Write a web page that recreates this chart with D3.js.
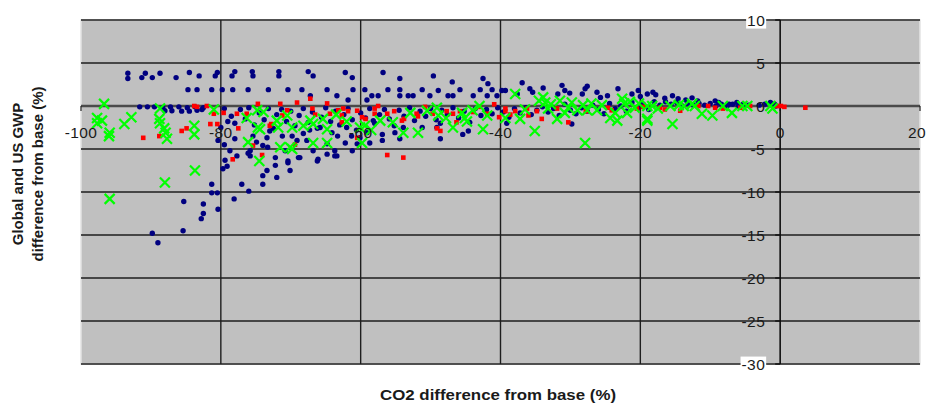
<!DOCTYPE html>
<html>
<head>
<meta charset="utf-8">
<script src="https://cdn.jsdelivr.net/npm/d3@7/dist/d3.min.js"></script>
<style>
  body { margin: 0; background: #fff; }
  text { font-family: "Liberation Sans", Arial, sans-serif; fill: #1a1a1a; }
</style>
</head>
<body>
<div id="chart"></div>
<script>
// axis ticks
const xTicks = [-100, -80, -60, -40, -20, 0, 20];
const yTicks = [10, 5, 0, -5, -10, -15, -20, -25, -30];

// navy dots [co2 diff, gwp diff]
const blueSeries = [
  [-93.3,3.8],[-93.3,3.2],[-91.3,3.3],[-90.8,3.8],[-89.8,3.3],[-88.7,3.8],[-86.4,3.3],[-84.5,3.9],[-83.1,3.5],
  [-80.8,3.5],[-80.5,3.9],[-78.4,3.5],[-78.0,4.0],[-75.5,4.0],[-75.4,3.5],[-71.7,4.0],[-71.7,3.5],[-67.5,4.0],
  [-66.8,3.5],[-62.2,3.9],[-61.2,3.3],[-56.8,3.9],[-54.4,3.2],[-49.6,3.5],[-46.9,2.8],[-42.5,3.2],[-41.8,2.6],
  [-84.7,1.9],[-83.4,1.9],[-81.3,1.9],[-79.8,1.9],[-78.3,1.9],[-76.1,1.9],[-73.2,1.9],[-70.4,1.9],[-68.4,1.9],
  [-64.8,1.9],[-61.1,1.9],[-59.4,1.9],[-63.4,1.2],[-61.8,0.7],[-58.4,1.2],[-59.1,0.7],[-67.2,1.2],[-56.1,1.9],
  [-54.4,1.9],[-54.4,1.2],[-53.2,1.2],[-52.5,1.2],[-51.2,1.9],[-50.1,1.2],[-48.9,1.8],[-47.5,1.2],[-46.8,1.2],
  [-45.8,1.9],[-43.9,1.2],[-42.9,1.9],[-41.9,1.2],[-41.2,1.9],[-40.5,1.2],[-39.8,1.8],[-57.5,1.2],[-39.3,1.8],
  [-37.6,1.4],[-36.9,2.7],[-35.8,2.0],[-35.4,1.6],[-33.9,2.1],[-31.2,2.4],[-30.8,1.8],[-30.1,1.5],[-31.8,1.4],
  [-28.3,1.4],[-27.9,2.0],[-27.6,2.3],[-26.2,1.6],[-25.7,1.0],[-24.7,1.2],[-23.2,2.0],[-21.2,1.4],[-20.3,1.8],
  [-20.0,1.1],[-19.0,1.4],[-18.2,1.6],[-17.8,1.3],[-16.5,0.9],[-15.4,1.2],[-14.6,0.85],[-13.5,0.7],[-12.6,0.95],
  [-11.8,0.6],[-9.3,0.6],[-8.8,0.4],[-7.3,0.2],[-6.2,0.4],[-5.3,0.2],[-1.4,0.4],[-0.8,0.2],[-3.0,0.1],
  [-91.6,-0.1],[-90.5,-0.1],[-89.5,-0.1],[-88.3,-0.2],[-87.2,-0.1],[-86.0,-0.1],[-84.8,-0.2],[-83.7,-0.1],[-82.5,-0.2],
  [-88.0,-0.55],[-87.0,-0.55],[-85.6,-0.6],[-84.5,-0.6],[-83.4,-0.5],[-82.7,-0.4],
  [-79.5,-0.3],[-78.5,-1.2],[-78.0,-2.0],[-77.2,-0.4],[-76.5,-1.5],[-76.0,-0.2],[-75.2,-2.2],[-74.5,-0.8],[-73.8,-1.6],
  [-73.2,-0.3],[-72.5,-2.6],[-72.0,-1.0],[-71.3,-0.4],[-70.6,-1.8],[-70.0,-0.6],[-69.4,-2.3],[-68.8,-1.1],[-68.2,-0.3],
  [-67.5,-1.9],[-66.9,-0.7],[-66.2,-2.6],[-65.6,-1.3],[-65.0,-0.2],[-64.3,-1.8],[-63.6,-0.6],[-63.0,-2.2],[-62.4,-1.0],
  [-61.8,-0.3],[-61.2,-1.6],[-60.6,-2.8],[-60.0,-0.8],[-59.3,-1.4],[-58.7,-0.3],[-58.0,-2.0],[-57.3,-1.0],[-56.6,-0.4],
  [-55.9,-1.5],[-55.2,-2.3],[-54.5,-0.5],[-53.8,-1.2],[-53.0,-0.2],[-52.3,-1.7],[-51.5,-0.6],[-50.7,-1.2],[-50.0,-0.3],
  [-49.2,-1.6],[-48.4,-0.5],[-47.6,-1.0],[-46.8,-0.2],[-46.0,-1.4],[-45.2,-0.6],[-44.4,-1.9],[-43.6,-0.3],[-42.8,-1.1],
  [-42.0,-0.4],[-41.2,-0.9],[-40.4,-0.2],[-39.6,-0.7],[-38.8,-1.3],[-38.0,-0.3],[-37.2,-0.8],[-36.4,-0.2],[-35.6,-1.0],
  [-34.8,-0.5],[-34.0,-0.1],[-33.2,-0.7],[-32.4,-0.3],[-31.6,-1.1],[-30.8,0.2],[-30.0,-0.5],[-29.2,-0.9],[-28.4,-0.2],
  [-27.6,-0.6],[-26.8,0.1],[-26.0,-0.4],[-25.2,-0.9],[-24.4,0.3],[-23.6,-0.3],[-22.8,0.0],[-22.0,-0.6],[-21.2,0.4],
  [-20.4,-0.2],[-19.6,0.2],[-18.8,-0.4],[-18.0,0.5],[-17.2,0.1],[-16.4,0.5],[-15.6,0.2],[-14.8,0.4],[-14.0,0.0],
  [-13.2,0.3],[-12.4,0.1],[-11.6,0.3],[-10.8,0.1],[-10.0,0.3],[-9.2,0.0],[-8.4,0.2],[-7.6,0.0],[-6.8,0.2],
  [-6.0,0.0],[-4.5,0.1],[-2.2,0.2],[-0.6,0.0],[-39.1,-2.0],[-29.8,-2.1],
  [-81.3,-9.1],[-81.3,-10.1],[-80.5,-10.1],[-80.4,-12.0],[-82.5,-11.4],[-82.5,-12.5],[-82.8,-13.1],[-85.3,-11.1],
  [-85.4,-14.5],[-89.8,-14.8],[-89.0,-15.9],[-78.1,-10.8],[-76.0,-9.9],[-77.0,-9.1],[-74.0,-9.1],[-79.7,-7.3],
  [-79.1,-7.0],[-77.7,-5.8],[-76.1,-5.5],[-74.0,-8.1],[-73.4,-7.5],[-72.2,-6.9],[-72.0,-8.3],[-70.4,-6.6],
  [-70.1,-7.5],[-68.7,-6.0],[-66.2,-6.4],[-64.8,-5.6],[-63.7,-5.8],[-79.4,-6.3],[-78.7,-5.2],[-78.0,-3.8],
  [-75.8,-5.2],[-75.8,-5.8],[-74.0,-4.6],[-73.3,-4.8],[-72.2,-6.0],[-70.8,-5.2],[-70.4,-6.4],[-69.1,-4.0],
  [-68.9,-6.0],[-67.7,-4.0],[-66.8,-5.2],[-66.1,-6.2],[-64.8,-4.4],[-63.7,-5.2],[-63.4,-5.8],[-62.2,-4.3],
  [-61.2,-5.2],[-60.5,-4.4],[-73.0,-2.9],[-73.4,-3.7],[-75.4,-3.5],[-74.9,-4.2],[-71.2,-3.5],[-69.8,-3.5],
  [-68.2,-3.2],[-67.3,-2.8],[-65.8,-2.5],[-64.1,-3.1],[-63.3,-3.5],[-62.0,-2.5],[-61.3,-3.5],[-60.1,-3.7],
  [-59.1,-3.1],[-58.7,-4.3],[-56.9,-4.0],[-56.9,-3.3],[-55.1,-3.1],[-54.4,-3.8],[-53.9,-2.5],[-48.6,-3.8],
  [-49.1,-2.5],[-51.2,-2.5],[-45.4,-3.3],[-44.6,-2.9],[-48.6,-2.0],[-58.2,-1.7],[-79.0,-1.8],[-80.0,-2.5],
  [-80.4,-4.0],[-79.5,-4.5]
];

// red dots
const redSeries = [
  [-91.1,-3.7],[-88.8,-3.5],[-85.6,-2.9],[-84.9,-2.6],[-83.8,0.0],[-83.4,-0.1],[-82.0,0.0],[-81.5,-2.1],[-80.5,-2.1],
  [-81.0,-0.9],[-79.6,-0.8],[-78.3,-6.2],[-77.7,-0.9],[-77.5,-2.6],[-76.3,-0.9],[-75.4,-4.6],[-74.7,0.25],[-74.1,-5.7],
  [-73.0,-2.3],[-72.8,-2.1],[-71.5,0.25],[-71.2,-1.1],[-70.5,-0.5],[-69.4,-4.5],[-69.1,0.4],[-67.2,0.85],[-66.9,-0.3],
  [-66.5,-1.0],[-64.8,0.3],[-64.4,-0.9],[-63.2,-0.5],[-62.7,-1.1],[-62.7,-1.9],[-62.5,-0.3],[-61.8,-0.6],[-60.5,-0.55],
  [-60.5,-3.7],[-59.8,-1.3],[-59.3,-1.5],[-58.0,-0.9],[-58.0,-0.3],[-57.5,0.0],[-56.2,-0.9],[-55.2,-0.6],[-54.1,-1.7],
  [-53.8,-1.5],[-52.0,-0.9],[-51.8,-1.2],[-50.8,-0.1],[-49.7,-0.9],[-49.1,-2.6],[-48.6,-2.9],[-47.7,-0.6],[-46.8,-0.9],
  [-45.8,-0.6],[-46.3,-1.9],[-43.9,-0.7],[-43.0,-0.1],[-41.9,-0.9],[-40.9,0.2],[-40.2,-1.3],[-39.3,-0.3],[-39.3,-0.6],
  [-38.6,-1.0],[-37.9,-0.6],[-36.2,-0.3],[-36.0,-1.1],[-34.8,-0.6],[-34.1,-1.5],[-31.9,-0.3],[-30.3,-1.9],[-27.8,-0.6],
  [-24.6,-0.2],[-24.1,-0.5],[-20.5,-0.3],[-19.6,-0.1],[-17.2,-0.2],[-16.5,-0.4],[-14.3,-0.55],[-11.7,0.0],[-10.3,0.0],
  [-9.3,-0.2],[-8.2,-0.3],[-5.7,-0.2],[-4.3,0.0],[-0.4,0.0],[0.1,0.0],[0.6,-0.1],[3.6,-0.2],[-56.2,-5.7],[-53.9,-6.0]
];

// green crosses
const greenSeries = [
  [-96.7,0.25],[-97.7,-1.4],[-97.0,-1.7],[-97.7,-2.0],[-95.9,-3.1],[-96.0,-3.5],[-93.8,-2.1],[-92.8,-1.3],[-88.7,-0.3],
  [-88.8,-1.5],[-88.7,-2.0],[-88.1,-2.6],[-87.9,-3.1],[-87.7,-3.8],[-83.8,-2.3],[-83.8,-3.3],[-81.0,-0.4],[-83.7,-7.5],
  [-95.9,-10.8],[-88.0,-8.9],[-74.5,-6.4],[-76.1,-4.2],[-74.8,-0.5],[-74.4,-2.7],[-72.0,-1.7],[-70.5,-1.1],[-71.5,-4.8],
  [-70.1,-4.8],[-68.2,-2.3],[-66.8,-2.1],[-66.8,-4.3],[-65.4,-1.5],[-64.8,-4.3],[-76.3,-1.4],[-74.7,-2.5],[-73.9,-0.7],
  [-71.8,-2.5],[-69.8,-2.5],[-69.8,-5.0],[-67.2,-1.7],[-64.8,-2.7],[-60.1,-2.5],[-59.8,-4.3],[-59.4,-2.3],[-57.2,-1.7],
  [-55.4,-1.9],[-53.9,-3.1],[-51.8,-3.1],[-52.9,-0.8],[-50.5,-0.55],[-49.1,-0.2],[-48.9,-1.1],[-47.8,-1.4],[-46.8,-2.5],
  [-45.5,-0.8],[-45.1,-1.4],[-44.8,-1.8],[-42.5,-2.7],[-41.9,-1.1],[-37.9,1.4],[-39.3,-1.4],[-37.2,-1.5],[-35.1,-2.9],
  [-33.9,1.0],[-33.6,0.4],[-33.2,-0.3],[-31.9,-1.5],[-30.3,-0.2],[-29.8,0.4],[-29.0,-0.5],[-27.6,-0.5],[-26.2,-0.5],
  [-27.9,-4.3],[-24.3,-1.4],[-23.6,-0.8],[-22.6,0.85],[-22.3,0.3],[-23.3,-1.7],[-21.9,-0.8],[-19.0,-1.7],[-19.0,0.0],
  [-18.3,0.0],[-19.0,-1.5],[-15.7,0.0],[-15.4,-2.1],[-12.6,0.25],[-12.2,0.0],[-11.2,-0.9],[-9.7,-1.1],[-8.2,0.0],
  [-6.9,-0.8],[-5.4,0.0],[-4.7,0.0],[-1.4,0.0],[-1.1,-0.3],
  [-34.5,0.6],[-32.8,0.2],[-31.5,0.6],[-30.8,-0.8],[-28.2,0.1],[-27.0,0.3],[-25.5,0.1],[-21.5,0.5],[-20.8,-0.2],
  [-20.2,0.3],[-17.5,-0.3],[-14.5,0.1],[-13.8,0.0],[-44.0,-0.5],[-43.0,0.0],[-36.5,-0.4],[-62.0,-1.8],[-63.5,-1.0],
  [-58.5,-2.8]
];

const width = 926;
const height = 403;
const margin = { top: 20, right: 6, bottom: 39, left: 81 };
const plotW = width - margin.left - margin.right;
const plotH = height - margin.top - margin.bottom;

const svg = d3.select('#chart')
  .append('svg')
  .attr('width', width)
  .attr('height', height);

const chart = svg.append('g')
  .attr('transform', `translate(${margin.left},${margin.top})`);

const xScale = d3.scaleLinear().domain([-100, 20]).range([0, plotW]);
const yScale = d3.scaleLinear().domain([-30, 10]).range([plotH, 0]);

// plot area
chart.append('rect')
  .attr('width', plotW)
  .attr('height', plotH)
  .attr('fill', '#c0c0c0')
  .attr('stroke', '#e4e4e4')
  .attr('stroke-width', 1.5);

// gridlines
chart.append('g')
  .selectAll('line')
  .data(yTicks.filter(d => d !== 0))
  .enter()
  .append('line')
  .attr('x1', 0)
  .attr('x2', plotW)
  .attr('y1', d => yScale(d))
  .attr('y2', d => yScale(d))
  .attr('stroke', '#1e1e1e')
  .attr('stroke-width', 1.4);

chart.append('g')
  .selectAll('line')
  .data(xTicks.filter(d => d > -100 && d < 0))
  .enter()
  .append('line')
  .attr('x1', d => xScale(d))
  .attr('x2', d => xScale(d))
  .attr('y1', 0)
  .attr('y2', plotH)
  .attr('stroke', '#1e1e1e')
  .attr('stroke-width', 1.4);

// x axis along y = 0
chart.append('line')
  .attr('x1', 0)
  .attr('x2', plotW)
  .attr('y1', yScale(0))
  .attr('y2', yScale(0))
  .attr('stroke', '#4a4a4a')
  .attr('stroke-width', 2.4);

chart.append('g')
  .selectAll('line')
  .data(xTicks)
  .enter()
  .append('line')
  .attr('x1', d => xScale(d))
  .attr('x2', d => xScale(d))
  .attr('y1', yScale(0))
  .attr('y2', yScale(0) + 5)
  .attr('stroke', '#222')
  .attr('stroke-width', 1.2);

// y axis along x = 0
chart.append('line')
  .attr('x1', xScale(0))
  .attr('x2', xScale(0))
  .attr('y1', 0)
  .attr('y2', plotH)
  .attr('stroke', '#111')
  .attr('stroke-width', 1.6);

chart.append('g')
  .selectAll('line')
  .data(yTicks)
  .enter()
  .append('line')
  .attr('x1', xScale(0) - 5)
  .attr('x2', xScale(0))
  .attr('y1', d => yScale(d))
  .attr('y2', d => yScale(d))
  .attr('stroke', '#111')
  .attr('stroke-width', 1.4);

// points
chart.append('g')
  .selectAll('circle')
  .data(blueSeries)
  .enter()
  .append('circle')
  .attr('cx', d => xScale(d[0]))
  .attr('cy', d => yScale(d[1]))
  .attr('r', 2.7)
  .attr('fill', '#000080');

chart.append('g')
  .selectAll('rect')
  .data(redSeries)
  .enter()
  .append('rect')
  .attr('x', d => xScale(d[0]) - 2.3)
  .attr('y', d => yScale(d[1]) - 2.3)
  .attr('width', 4.6)
  .attr('height', 4.6)
  .attr('fill', '#ff0000');

chart.append('g')
  .selectAll('path')
  .data(greenSeries)
  .enter()
  .append('path')
  .attr('d', d => {
    const cx = xScale(d[0]), cy = yScale(d[1]), s = 5;
    return `M${cx - s},${cy - s}L${cx + s},${cy + s}M${cx - s},${cy + s}L${cx + s},${cy - s}`;
  })
  .attr('stroke', '#00ff00')
  .attr('stroke-width', 2.2)
  .attr('fill', 'none');

// x tick labels (the last one is pulled in so it stays on the page)
chart.append('g')
  .selectAll('text')
  .data(xTicks)
  .enter()
  .append('text')
  .attr('x', d => d === 20 ? xScale(d) - 3 : xScale(d))
  .attr('y', yScale(0) + 32)
  .style('font-size', '15.5px')
  .style('letter-spacing', '0.4px')
  .style('text-anchor', 'middle')
  .text(d => d);

// y tick labels
const yLabels = chart.append('g')
  .selectAll('g')
  .data(yTicks)
  .enter()
  .append('g');

yLabels.append('text')
  .attr('x', xScale(0) - 15)
  .attr('y', d => yScale(d))
  .attr('dy', '0.36em')
  .style('font-size', '15.5px')
  .style('letter-spacing', '0.4px')
  .style('text-anchor', 'end')
  .text(d => d);

// the end labels sit on a white box
yLabels.filter(d => d === 10 || d === -30)
  .insert('rect', 'text')
  .each(function () {
    const bb = d3.select(this.parentNode).select('text').node().getBBox();
    d3.select(this)
      .attr('x', bb.x - 1)
      .attr('y', bb.y + 1)
      .attr('width', bb.width + 2)
      .attr('height', bb.height - 1)
      .attr('fill', '#fff');
  });

// axis titles
svg.append('text')
  .attr('x', 498)
  .attr('y', 400)
  .attr('textLength', 236)
  .attr('lengthAdjust', 'spacingAndGlyphs')
  .style('font-size', '15px')
  .style('font-weight', 'bold')
  .style('text-anchor', 'middle')
  .text('CO2 difference from base (%)');

const yTitle = svg.append('g')
  .attr('transform', 'translate(0,174) rotate(-90)');

yTitle.append('text')
  .attr('x', 0)
  .attr('y', 23)
  .style('font-size', '15px')
  .style('font-weight', 'bold')
  .style('text-anchor', 'middle')
  .text('Global and US GWP');

yTitle.append('text')
  .attr('x', 0)
  .attr('y', 43)
  .style('font-size', '15px')
  .style('font-weight', 'bold')
  .style('text-anchor', 'middle')
  .text('difference from base (%)');
</script>
</body>
</html>
